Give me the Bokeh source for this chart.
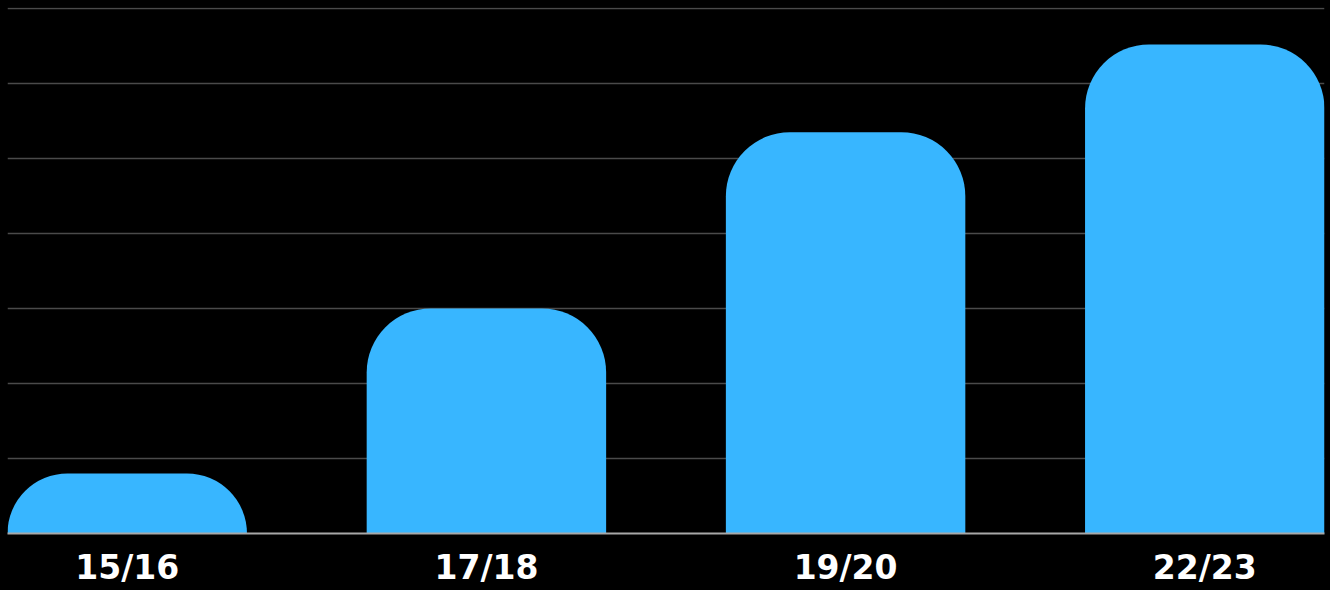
from bokeh.plotting import figure
from bokeh.models import ColumnDataSource, Range1d, FixedTicker
from bokeh.embed import file_html
from bokeh.resources import INLINE

categories = ["15/16", "17/18", "19/20", "22/23"]
values = [0.80, 3.0, 5.35, 6.52]
xpos = [0, 1, 2, 3]
grid_ticks = [1, 2, 3, 4, 5, 6, 7]

BAR_W = 2 / 3
source = ColumnDataSource(dict(x=xpos, top=values, label=categories))

p = figure(width=1330, height=590, output_backend="svg", toolbar_location=None,
           x_range=Range1d(-BAR_W / 2, xpos[-1] + BAR_W / 2),
           y_range=Range1d(0, 7 + 1 / 75),
           min_border_left=7, min_border_right=6, min_border_top=7, min_border_bottom=57)
p.styles = {"background-color": "black"}
p.background_fill_color = "black"
p.border_fill_color = "black"
p.outline_line_color = None

p.vbar(x="x", top="top", width=BAR_W, source=source, fill_color="#38B6FF",
       line_color=None, border_radius=(64, 64, 0, 0))

p.xgrid.visible = False
p.ygrid.ticker = FixedTicker(ticks=grid_ticks)
p.ygrid.grid_line_color = "#4a4a4a"
p.ygrid.grid_line_width = 1.5

p.yaxis.visible = False
xa = p.xaxis[0]
xa.ticker = FixedTicker(ticks=xpos)
xa.major_label_overrides = {x: c for x, c in zip(xpos, categories)}
xa.major_tick_line_color = None
xa.major_tick_out = 0
xa.major_tick_in = 0
xa.minor_tick_line_color = None
xa.axis_line_color = "#a8a8a8"
xa.axis_line_width = 2
xa.major_label_standoff = 14
xa.major_label_text_color = "white"
xa.major_label_text_font = "DejaVu Sans"
xa.major_label_text_font_style = "bold"
xa.major_label_text_font_size = "33px"

open("out.html", "w").write(file_html(p, INLINE))
